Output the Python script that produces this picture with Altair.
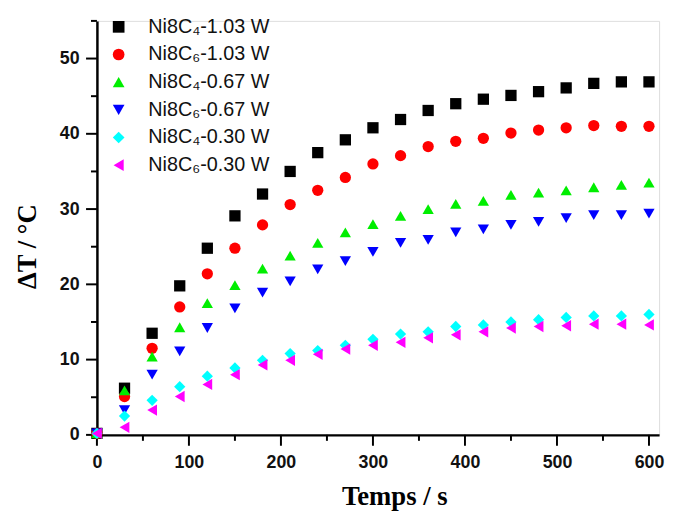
import altair as alt
import pandas as pd

times = [0, 30, 60, 90, 120, 150, 180, 210, 240, 270, 300, 330, 360, 390, 420, 450, 480, 510, 540, 570, 600]

series_names = ["Ni8C₄-1.03 W", "Ni8C₆-1.03 W", "Ni8C₄-0.67 W",
                "Ni8C₆-0.67 W", "Ni8C₄-0.30 W", "Ni8C₆-0.30 W"]
series_colors = ["#000000", "#ff0000", "#00ee00", "#0000ff", "#00ffff", "#ff00ff"]
series_shapes = ["square", "circle", "triangle-up", "triangle-down", "diamond", "triangle-left"]

c4_103 = [0.2, 6.2, 13.5, 19.8, 24.8, 29.1, 32.0, 35.0, 37.5, 39.2, 40.8,
          41.9, 43.1, 44.0, 44.6, 45.1, 45.6, 46.1, 46.7, 46.9, 46.9]
c6_103 = [0.2, 5.1, 11.5, 17.0, 21.4, 24.8, 27.9, 30.6, 32.5, 34.2, 36.0,
          37.1, 38.3, 39.0, 39.4, 40.1, 40.5, 40.8, 41.1, 41.0, 41.0]
c4_067 = [0.2, 5.9, 10.4, 14.3, 17.5, 19.9, 22.1, 23.8, 25.5, 26.9, 28.0,
          29.1, 30.0, 30.7, 31.1, 31.9, 32.2, 32.5, 32.9, 33.2, 33.5]
c6_067 = [0.2, 3.3, 8.0, 11.1, 14.2, 16.8, 18.9, 20.4, 22.0, 23.1, 24.3,
          25.5, 25.9, 26.9, 27.3, 27.9, 28.3, 28.8, 29.2, 29.2, 29.4]
c4_030 = [0.2, 2.5, 4.6, 6.4, 7.8, 8.9, 9.9, 10.8, 11.2, 11.9, 12.7,
          13.4, 13.7, 14.4, 14.6, 15.0, 15.3, 15.6, 15.8, 15.8, 16.0]
c6_030 = [0.2, 1.0, 3.3, 5.1, 6.7, 8.0, 9.3, 9.9, 10.7, 11.4, 11.9,
          12.3, 12.9, 13.3, 13.7, 14.2, 14.4, 14.5, 14.7, 14.7, 14.6]

all_series = [c4_103, c6_103, c4_067, c6_067, c4_030, c6_030]

# tick values (major = labelled, minor = unlabelled)
x_major = [0, 100, 200, 300, 400, 500, 600]
x_minor = [50, 150, 250, 350, 450, 550]
y_major = [0, 10, 20, 30, 40, 50]
y_minor = [5, 15, 25, 35, 45, 55]

rows = []
for name, vals in zip(series_names, all_series):
    for t, v in zip(times, vals):
        rows.append({"t": t, "dT": v, "series": name})
df = pd.DataFrame(rows)

W, H = 569, 419
x_scale = alt.Scale(domain=[0, 611], nice=False, zero=False)
y_scale = alt.Scale(domain=[0, 55], nice=False, zero=False)

x_axis = alt.Axis(
    values=x_major, grid=False, ticks=False,
    labelFont="Liberation Sans", labelFontSize=18, labelFontWeight="bold",
    labelColor="#111111", labelOverlap=False, labelFlush=False,
    labelPadding=19,
    domainColor="#000000", domainWidth=2.5,
    title="Temps / s", titleFont="Liberation Serif", titleFontSize=27,
    titleFontWeight="bold", titleColor="#000000",
    titleX=301, titleY=70, titleBaseline="alphabetic", titleAlign="center",
)
y_axis = alt.Axis(
    values=y_major, grid=False, ticks=False,
    labelFont="Liberation Sans", labelFontSize=18, labelFontWeight="bold",
    labelColor="#111111", labelOverlap=False, labelFlush=False,
    labelPadding=18,
    domainColor="#000000", domainWidth=2.5,
    title="ΔT / °C", titleFont="Liberation Serif", titleFontSize=27,
    titleFontWeight="bold", titleColor="#000000",
    titleX=-62, titleY=228, titleBaseline="alphabetic", titleAlign="center",
    titleAngle=270,
)

legend = alt.Legend(
    title=None, orient="none", legendX=12, legendY=-4,
    labelFont="Liberation Sans", labelFontSize=20, labelColor="#111111",
    symbolSize=140, symbolStrokeWidth=0, labelOffset=20, rowPadding=8,
    padding=0, labelLimit=300,
)

points = alt.Chart(df).mark_point(filled=True, opacity=1, size=130).encode(
    x=alt.X("t:Q", scale=x_scale, axis=x_axis),
    y=alt.Y("dT:Q", scale=y_scale, axis=y_axis),
    color=alt.Color("series:N",
                    scale=alt.Scale(domain=series_names, range=series_colors),
                    legend=legend),
    shape=alt.Shape("series:N",
                    scale=alt.Scale(domain=series_names, range=series_shapes),
                    legend=legend),
)

def xticks(vals, length):
    d = pd.DataFrame({"t": vals})
    return alt.Chart(d).mark_rule(color="#000000", strokeWidth=2).encode(
        x=alt.X("t:Q", scale=x_scale, axis=x_axis),
        y=alt.value(H), y2=alt.value(H + length),
    )

def yticks(vals, length):
    d = pd.DataFrame({"dT": vals})
    return alt.Chart(d).mark_rule(color="#000000", strokeWidth=2).encode(
        y=alt.Y("dT:Q", scale=y_scale, axis=y_axis),
        x=alt.value(0), x2=alt.value(-length),
    )

chart = alt.layer(
    xticks(x_major, 11), xticks(x_minor, 6),
    yticks(y_major, 11), yticks(y_minor, 6),
    points,
).properties(
    width=W, height=H,
    autosize=alt.AutoSizeParams(type="none"),
    padding={"left": 90, "top": 10, "right": 8, "bottom": 76},
).configure_view(stroke=None).configure(background="#ffffff")

chart.save("out.html", embed_options={"renderer": "svg", "actions": False})
